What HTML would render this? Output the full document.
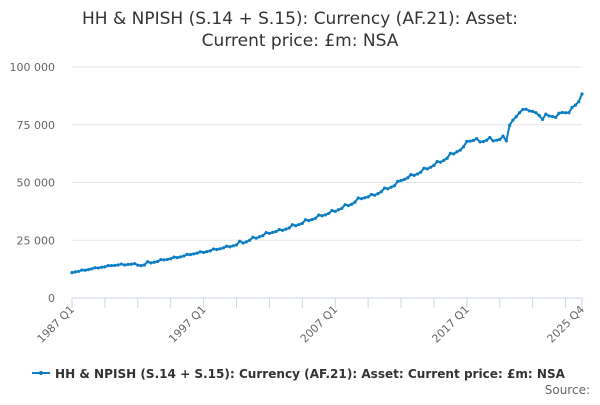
<!DOCTYPE html>
<html><head><meta charset="utf-8"><style>
body{margin:0;background:#fff;font-family:"Liberation Sans","DejaVu Sans",sans-serif;}
svg text{font-family:"DejaVu Sans","Liberation Sans",sans-serif;}
</style></head><body>
<svg id="chart" width="600" height="400" viewBox="0 0 600 400">
<text x="300" y="24" text-anchor="middle" font-size="17" fill="#333"><tspan x="300">HH &amp; NPISH (S.14 + S.15): Currency (AF.21): Asset:</tspan><tspan x="300" dy="22">Current price: £m: NSA</tspan></text>
<g id="grid"></g><g id="xaxis"></g><g id="series"></g>
<g>
<line x1="32" y1="373" x2="50" y2="373" stroke="#0b7dc2" stroke-width="2"/><circle cx="41" cy="373" r="2" fill="#0b7dc2"/>
<text x="55" y="378" font-size="12.5" font-weight="bold" fill="#333" textLength="510" lengthAdjust="spacingAndGlyphs">HH &amp; NPISH (S.14 + S.15): Currency (AF.21): Asset: Current price: £m: NSA</text></g>
<text x="590" y="394" text-anchor="end" font-size="12" fill="#666">Source:</text>
</svg>
<script>
const yTicks=[0,25000,50000,75000,100000];
const yTickLabels=["0","25 000","50 000","75 000","100 000"];
const xLabels=["1987 Q1","1997 Q1","2007 Q1","2017 Q1","2025 Q4"];
const xLabelIdx=[0,40,80,120,155];
const values=[11000,11300,11500,12100,12000,12300,12600,13100,13000,13300,13500,14000,14000,14100,14300,14700,14300,14500,14600,14900,14200,14000,14300,15700,15200,15500,15800,16600,16500,16700,17000,17700,17500,17800,18200,18900,18800,19100,19400,20000,19700,20100,20400,21200,21000,21300,21700,22400,22200,22600,23000,24600,23800,24300,25000,26300,25900,26500,27000,28300,28000,28400,28800,29600,29300,29800,30300,31700,31300,31800,32300,33900,33500,34000,34500,35900,35600,36000,36600,37900,37500,38200,38800,40400,40000,40600,41500,43300,43000,43400,43800,44800,44500,45200,46000,47600,47300,48000,48600,50500,50800,51300,52000,53400,53100,53700,54500,56200,55900,56600,57400,59100,58800,59600,60500,62600,62400,63300,64000,65500,67800,67900,68200,69000,67600,67700,68300,69500,68000,68300,68600,70100,68000,74800,77000,78500,80200,81600,81700,81000,80800,80200,79000,77300,79600,78800,78600,78200,80000,80300,80200,80200,82500,83500,85000,88300];
const NS="http://www.w3.org/2000/svg";
const X0=72,X1=582,Y0=298,Y1=67;
const xs=i=>X0+(X1-X0)*i/(values.length-1);
const ys=v=>Y0-(Y0-Y1)*v/100000;
function mk(t,a,p){const e=document.createElementNS(NS,t);for(const k in a)e.setAttribute(k,a[k]);p.appendChild(e);return e;}
const grid=document.getElementById('grid');
yTicks.forEach((v,i)=>{
 if(v>0){const l=mk('line',{x1:X0,x2:X1,y1:ys(v),y2:ys(v),stroke:'#e6e6e6'},grid);
 
 }
 const t=mk('text',{x:55,y:ys(v)+4,'text-anchor':'end','font-size':11,fill:'#666'},grid);t.textContent=yTickLabels[i];
 
 
});
const xa=document.getElementById('xaxis');
const ax=mk('line',{x1:X0,x2:X1,y1:Y0,y2:Y0,stroke:'#ccd6eb'},xa);


for(let i=0;i<values.length;i+=10){const tk=mk('line',{x1:xs(i),x2:xs(i),y1:Y0,y2:Y0+10,stroke:'#ccd6eb'},xa);
 
 }
mk('line',{x1:X1,x2:X1,y1:Y0,y2:Y0+10,stroke:'#ccd6eb'},xa);
xLabels.forEach((s,k)=>{const x=xs(xLabelIdx[k]);
 const t=mk('text',{x:x+3,y:Y0+12,'text-anchor':'end','font-size':11,fill:'#666',transform:`rotate(-45 ${x+3} ${Y0+12})`},xa);t.textContent=s;
 
 });
const sg=document.getElementById('series');
const pl=mk('polyline',{points:values.map((v,i)=>xs(i)+','+ys(v)).join(' '),fill:'none',stroke:'#0b7dc2','stroke-width':2,'stroke-linejoin':'round'},sg);


values.forEach((v,i)=>{const c=mk('circle',{cx:xs(i),cy:ys(v),r:1.6,fill:'#0b7dc2'},sg);
 
 });
</script>
</body></html>
